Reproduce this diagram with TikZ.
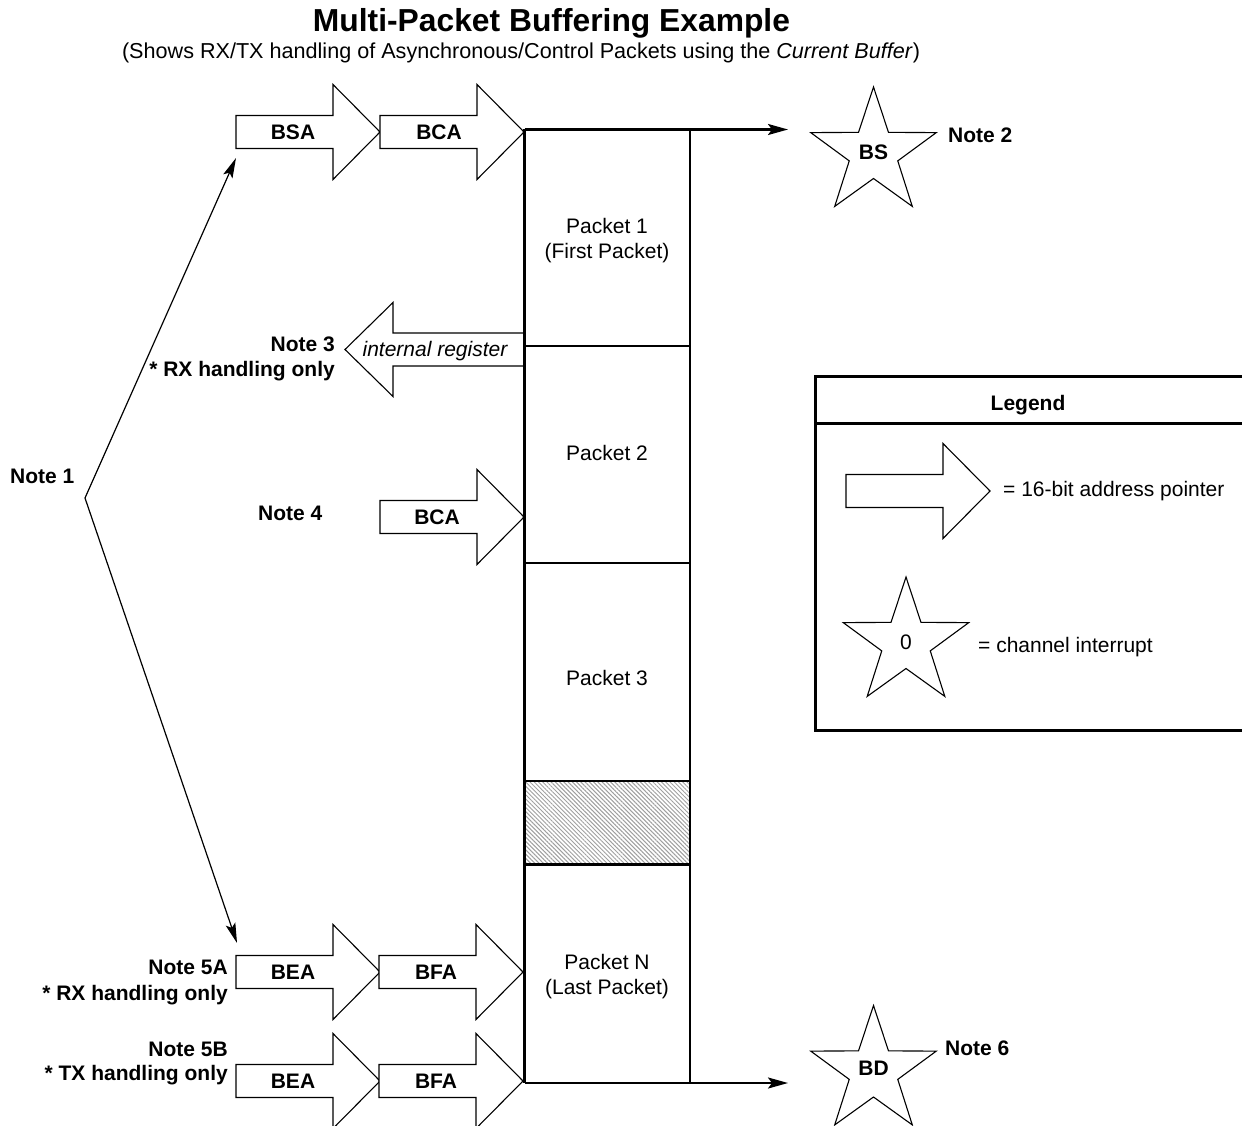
\documentclass[tikz,border=0pt]{standalone}
\usepackage{fontspec}
\setmainfont{Liberation Sans}
\usetikzlibrary{arrows.meta,patterns.meta}
\begin{document}
\begin{tikzpicture}[x=1pt,y=-1pt,
  every node/.style={inner sep=0pt, text height=15pt, text depth=0pt, font=\fontsize{21}{25}\selectfont},
  bold/.style={font=\fontsize{21}{25}\selectfont\bfseries},
  colline/.style={line width=2.3pt},
  boxline/.style={line width=3pt},
  outline/.style={draw, line width=1.1pt, line join=miter, fill=white},
  colptr/.style={line width=2.3pt, -{Stealth[length=20pt,width=11pt,inset=4pt]}},
  noteptr/.style={line width=1.2pt, -{Stealth[length=20pt,width=10pt,inset=4pt]}},
  barrow/.pic={\draw[outline] (0,0) -- (-47,-47.5) -- (-47,-16.5) -- (-144,-16.5) -- (-144,16.5) -- (-47,16.5) -- (-47,47.5) -- cycle;},
  starpic/.pic={\draw[outline] (-90:66) -- (-54:25.5) -- (-18:66) -- (18:25.5) -- (54:66) -- (90:25.5) -- (126:66) -- (162:25.5) -- (198:66) -- (234:25.5) -- cycle;}
]
\useasboundingbox (0,0) rectangle (1242,1126);

% title
\node[font=\fontsize{31.8}{36}\selectfont\bfseries, text height=22.8pt] (title) at (551.5,20.5) {Multi-Packet Buffering Example};
\node[font=\fontsize{21.6}{25}\selectfont] (subtitle) at (521,51) {(Shows RX/TX handling of Asynchronous/Control Packets using the \textit{Current Buffer})};

% hatched area
\fill[pattern={Lines[angle=-45,distance=3pt,line width=1pt]}, pattern color=gray!75] (524.5,781) rectangle (690,864.5);

% block arrows
\pic at (380,132) {barrow};
\pic at (524,132) {barrow};
\pic at (524,517) {barrow};
\pic at (380,972) {barrow};
\pic at (523,972) {barrow};
\pic at (380,1081) {barrow};
\pic at (523,1081) {barrow};
\pic at (990,491) {barrow};
% internal register (left pointing)
\draw[outline] (345,349.5) -- (393,302.5) -- (393,333) -- (525,333) -- (525,366) -- (393,366) -- (393,396.5) -- cycle;

\node[bold] (bsa) at (293,132) {BSA};
\node[bold] (bca) at (439,132) {BCA};
\node[bold] (bca2) at (437,517) {BCA};
\node[bold] (bea1) at (293,972) {BEA};
\node[bold] (bfa1) at (436,972) {BFA};
\node[bold] (bea2) at (293,1081) {BEA};
\node[bold] (bfa2) at (436,1081) {BFA};
\node[font=\fontsize{21}{25}\selectfont\itshape] (ireg) at (435,349) {internal register};

% stars
\pic at (873.5,153) {starpic};
\pic at (873.5,1071.5) {starpic};
\pic at (906,643) {starpic};
\node[bold] (bs) at (873.5,152) {BS};
\node[bold] (bd) at (873.5,1068) {BD};
\node (zero) at (906,642) {0};

% buffer column
\coordinate (tl) at (524.5,129.5);
\coordinate (tr) at (690,129.5);
\coordinate (bl) at (524.5,1083);
\coordinate (br) at (690,1083);
\coordinate (bsin) at (788,129.5);
\coordinate (bdin) at (788,1083);
\draw[colline] (tl) -- (bl);
\draw[colline] (tr) -- (br);
\draw[colline] (524.5,346) -- (690,346);
\draw[colline] (524.5,563) -- (690,563);
\draw[colline] (524.5,781) -- (690,781);
\draw[colline] (524.5,864.5) -- (690,864.5);
\draw[colptr] (tl) -- (bsin);
\draw[colptr] (bl) -- (bdin);

\node (p1) at (607,226) {Packet 1};
\node (p1b) at (607,251) {(First Packet)};
\node (p2) at (607,453) {Packet 2};
\node (p3) at (607,678) {Packet 3};
\node (pn) at (607,962) {Packet N};
\node (pnb) at (607,987) {(Last Packet)};

% notes
\node[bold, anchor=west] (note2) at (948,135) {Note 2};
\node[bold, anchor=west] (note6) at (945,1048) {Note 6};
\node[bold, anchor=east] (note3) at (335,344) {Note 3};
\node[bold, anchor=east] (note3b) at (335,369) {* RX handling only};
\node[bold, anchor=west] (note4) at (258,513) {Note 4};
\node[bold, anchor=west] (note1) at (10,476) {Note 1};
\node[bold, anchor=east] (note5a) at (228,967) {Note 5A};
\node[bold, anchor=east] (note5ab) at (228,993) {* RX handling only};
\node[bold, anchor=east] (note5b) at (228,1049) {Note 5B};
\node[bold, anchor=east] (note5bb) at (228,1073) {* TX handling only};

\coordinate (n1v) at (85,498);
\coordinate (bsatail) at (236,158);
\coordinate (beatail) at (237,943);
\draw[noteptr] (n1v) -- (bsatail);
\draw[noteptr] (n1v) -- (beatail);

% legend
\draw[boxline] (1243,376) -- (815,376) -- (815,730) -- (1243,730);
\draw[boxline] (815,423) -- (1243,423);
\node[bold] (legend) at (1028,403) {Legend};
\node[anchor=west] (lgptr) at (1003,489) {= 16-bit address pointer};
\node[anchor=west] (lgint) at (978,645) {= channel interrupt};
\end{tikzpicture}
\end{document}
